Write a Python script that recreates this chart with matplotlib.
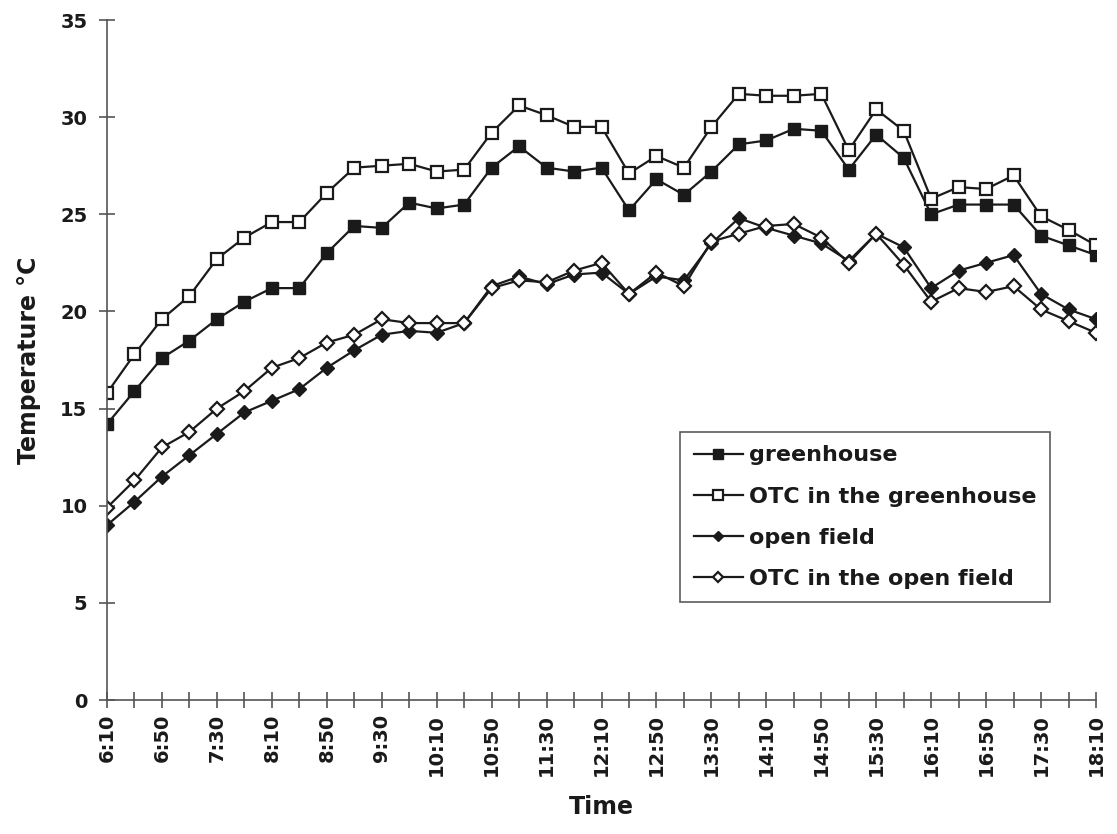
import matplotlib
matplotlib.use("Agg")
import matplotlib.pyplot as plt

times = ["6:10", "6:30", "6:50", "7:10", "7:30", "7:50", "8:10", "8:30", "8:50", "9:10",
         "9:30", "9:50", "10:10", "10:30", "10:50", "11:10", "11:30", "11:50", "12:10", "12:30",
         "12:50", "13:10", "13:30", "13:50", "14:10", "14:30", "14:50", "15:10", "15:30", "15:50",
         "16:10", "16:30", "16:50", "17:10", "17:30", "17:50", "18:10"]

greenhouse = [14.2, 15.9, 17.6, 18.5, 19.6, 20.5, 21.2, 21.2, 23.0, 24.4,
              24.3, 25.6, 25.3, 25.5, 27.4, 28.5, 27.4, 27.2, 27.4, 25.2,
              26.8, 26.0, 27.2, 28.6, 28.8, 29.4, 29.3, 27.3, 29.1, 27.9,
              25.0, 25.5, 25.5, 25.5, 23.9, 23.4, 22.9]

otc_greenhouse = [15.8, 17.8, 19.6, 20.8, 22.7, 23.8, 24.6, 24.6, 26.1, 27.4,
                  27.5, 27.6, 27.2, 27.3, 29.2, 30.6, 30.1, 29.5, 29.5, 27.1,
                  28.0, 27.4, 29.5, 31.2, 31.1, 31.1, 31.2, 28.3, 30.4, 29.3,
                  25.8, 26.4, 26.3, 27.0, 24.9, 24.2, 23.4]

open_field = [9.0, 10.2, 11.5, 12.6, 13.7, 14.8, 15.4, 16.0, 17.1, 18.0,
              18.8, 19.0, 18.9, 19.4, 21.3, 21.8, 21.4, 21.9, 22.0, 20.9,
              21.8, 21.6, 23.5, 24.8, 24.3, 23.9, 23.5, 22.6, 24.0, 23.3,
              21.2, 22.1, 22.5, 22.9, 20.9, 20.1, 19.6]

otc_open_field = [9.9, 11.3, 13.0, 13.8, 15.0, 15.9, 17.1, 17.6, 18.4, 18.8,
                  19.6, 19.4, 19.4, 19.4, 21.2, 21.6, 21.5, 22.1, 22.5, 20.9,
                  22.0, 21.3, 23.6, 24.0, 24.4, 24.5, 23.8, 22.5, 24.0, 22.4,
                  20.5, 21.2, 21.0, 21.3, 20.1, 19.5, 18.9]

series_labels = ["greenhouse", "OTC in the greenhouse", "open field", "OTC in the open field"]

plt.rcParams['font.family'] = ['DejaVu Sans']
plt.rcParams['font.weight'] = 'bold'

fig = plt.figure(figsize=(11.17, 8.34), dpi=100)
ax = fig.add_axes([107/1117, 134/834, 989/1117, 680/834])

x = list(range(len(times)))
ink = "#1a1a1a"
ax.plot(x, greenhouse, color=ink, lw=1.6, marker="s", ms=9, mfc=ink, mec=ink, label=series_labels[0])
ax.plot(x, otc_greenhouse, color=ink, lw=1.6, marker="s", ms=9, mfc="white", mec=ink, mew=1.6, label=series_labels[1])
ax.plot(x, open_field, color=ink, lw=1.6, marker="D", ms=7, mfc=ink, mec=ink, label=series_labels[2])
ax.plot(x, otc_open_field, color=ink, lw=1.6, marker="D", ms=7, mfc="white", mec=ink, mew=1.6, label=series_labels[3])

ax.set_xlim(0, len(times) - 1)
ax.set_ylim(0, 35)
ax.set_yticks(range(0, 36, 5))
ax.set_xticks(x)
ax.set_xticklabels([t if i % 2 == 0 else "" for i, t in enumerate(times)], rotation=90)

for s in ["top", "right"]:
    ax.spines[s].set_visible(False)
for s in ["left", "bottom"]:
    ax.spines[s].set_color("#555555")
    ax.spines[s].set_linewidth(1.2)

ax.tick_params(axis="both", direction="inout", length=12, width=1.2, color="#555555",
               labelsize=14, labelcolor=ink)
ax.tick_params(axis="y", pad=8)
ax.tick_params(axis="x", pad=4)

ax.set_xlabel("Time", fontsize=17, fontweight="bold", color=ink, labelpad=14)
ax.set_ylabel("Temperature °C", fontsize=17, fontweight="bold", color=ink, labelpad=14)

leg = ax.legend(loc="upper right", bbox_to_anchor=(0.9535, 0.394), borderaxespad=0,
                fontsize=16, frameon=True, fancybox=False, edgecolor="#333333",
                handlelength=2.2, handletextpad=0.3, borderpad=0.6, labelspacing=0.95,
                markerscale=0.75)
leg.get_frame().set_linewidth(1.2)
for t in leg.get_texts():
    t.set_color(ink)

fig.savefig("out.png", dpi=100, facecolor="white")
